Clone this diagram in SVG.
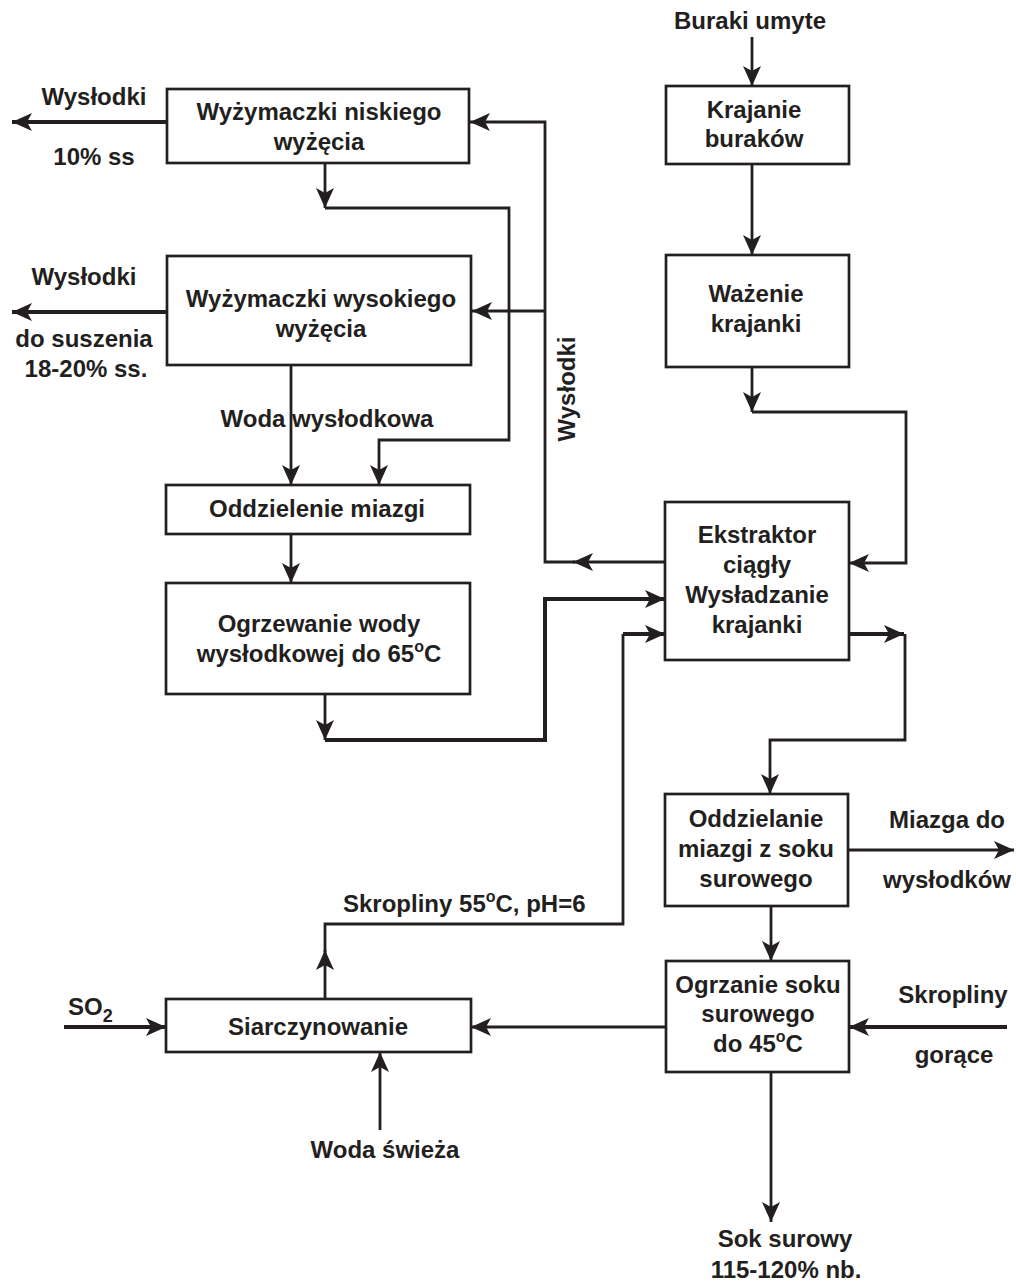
<svg xmlns="http://www.w3.org/2000/svg" width="1016" height="1282" viewBox="0 0 1016 1282">
<style>
  text { font-family: "Liberation Sans", Arial, sans-serif; font-weight: bold; font-size: 24px; fill: #231f20; }
  .c { text-anchor: middle; }
  .box { fill: #ffffff; stroke: #231f20; stroke-width: 2.7; }
  .ln { fill: none; stroke: #231f20; stroke-width: 2.8; stroke-linejoin: miter; }
  .th { stroke-width: 4; }
  .sup { font-size: 16px; }
</style>
<defs>
  <marker id="ah" viewBox="0 0 20 18" refX="20" refY="9" markerWidth="20" markerHeight="18" markerUnits="userSpaceOnUse" orient="auto">
    <path d="M0,0 L20,9 L0,18 L5,9 Z" fill="#231f20"/>
  </marker>
</defs>
<rect width="1016" height="1282" fill="#ffffff"/>

<g id="connectors">
  <line class="ln" x1="752" y1="37" x2="752" y2="86" marker-end="url(#ah)"/>
  <line class="ln" x1="752" y1="164" x2="752" y2="255" marker-end="url(#ah)"/>
  <line class="ln" x1="752" y1="367" x2="752" y2="412" marker-end="url(#ah)"/>
  <polyline class="ln" points="752,412 906,412 906,563 849,563" marker-end="url(#ah)"/>
  <line class="ln" x1="665" y1="562" x2="573" y2="562" marker-end="url(#ah)"/>
  <polyline class="ln" points="575,562 545,562 545,122 470,122" marker-end="url(#ah)"/>
  <line class="ln" x1="545" y1="311" x2="472" y2="311" marker-end="url(#ah)"/>
  <line class="ln" x1="325" y1="163" x2="325" y2="208" marker-end="url(#ah)"/>
  <polyline class="ln" points="325,208 509,208 509,440 379,440 379,485" marker-end="url(#ah)"/>
  <line class="ln" x1="291" y1="365" x2="291" y2="485" marker-end="url(#ah)"/>
  <line class="ln" x1="291" y1="534" x2="291" y2="583" marker-end="url(#ah)"/>
  <line class="ln" x1="325" y1="694" x2="325" y2="740" marker-end="url(#ah)"/>
  <polyline class="ln th" points="325,740 545,740 545,599 665,599" marker-end="url(#ah)"/>
  <line class="ln" x1="325" y1="999" x2="325" y2="950" marker-end="url(#ah)"/>
  <polyline class="ln" points="325,952 325,924 623,924 623,634"/>
  <polyline class="ln th" points="623,634 665,634" marker-end="url(#ah)"/>
  <line class="ln th" x1="849" y1="634" x2="904" y2="634" marker-end="url(#ah)"/>
  <polyline class="ln" points="905,634 905,740 770,740 770,794" marker-end="url(#ah)"/>
  <line class="ln" x1="848" y1="850" x2="1014" y2="850" marker-end="url(#ah)"/>
  <line class="ln" x1="771" y1="906" x2="771" y2="961" marker-end="url(#ah)"/>
  <line class="ln" x1="771" y1="1072" x2="771" y2="1222" marker-end="url(#ah)"/>
  <line class="ln th" x1="1007" y1="1027" x2="849" y2="1027" marker-end="url(#ah)"/>
  <line class="ln" x1="666" y1="1027" x2="471" y2="1027" marker-end="url(#ah)"/>
  <line class="ln th" x1="64" y1="1027" x2="166" y2="1027" marker-end="url(#ah)"/>
  <line class="ln" x1="380" y1="1130" x2="380" y2="1052" marker-end="url(#ah)"/>
  <line class="ln th" x1="167" y1="122" x2="12" y2="122" marker-end="url(#ah)"/>
  <line class="ln th" x1="167" y1="312" x2="12" y2="312" marker-end="url(#ah)"/>
</g>

<g id="n-wyzymaczki-niskiego">
  <rect class="box" x="167" y="89" width="302" height="74"/>
  <text class="c" x="319" y="120">Wyżymaczki niskiego</text>
  <text class="c" x="319" y="150">wyżęcia</text>
</g>
<g id="n-wyzymaczki-wysokiego">
  <rect class="box" x="167" y="256" width="304" height="109"/>
  <text class="c" x="321" y="307">Wyżymaczki wysokiego</text>
  <text class="c" x="321" y="337">wyżęcia</text>
</g>
<g id="n-oddzielenie">
  <rect class="box" x="166" y="485" width="304" height="49"/>
  <text class="c" x="317" y="517">Oddzielenie miazgi</text>
</g>
<g id="n-ogrzewanie">
  <rect class="box" x="166" y="583" width="304" height="111"/>
  <text class="c" x="319" y="632">Ogrzewanie wody</text>
  <text class="c" x="319" y="662">wysłodkowej do 65<tspan class="sup" dy="-10">o</tspan><tspan dy="10">C</tspan></text>
</g>
<g id="n-krajanie">
  <rect class="box" x="666" y="86" width="183" height="78"/>
  <text class="c" x="754" y="118">Krajanie</text>
  <text class="c" x="754" y="147">buraków</text>
</g>
<g id="n-wazenie">
  <rect class="box" x="666" y="255" width="183" height="112"/>
  <text class="c" x="756" y="302">Ważenie</text>
  <text class="c" x="756" y="332">krajanki</text>
</g>
<g id="n-ekstraktor">
  <rect class="box" x="665" y="502" width="184" height="158"/>
  <text class="c" x="757" y="543">Ekstraktor</text>
  <text class="c" x="757" y="573">ciągły</text>
  <text class="c" x="757" y="603">Wysładzanie</text>
  <text class="c" x="757" y="633">krajanki</text>
</g>
<g id="n-oddzielanie">
  <rect class="box" x="665" y="794" width="183" height="112"/>
  <text class="c" x="756" y="827">Oddzielanie</text>
  <text class="c" x="756" y="857">miazgi z soku</text>
  <text class="c" x="756" y="887">surowego</text>
</g>
<g id="n-ogrzanie">
  <rect class="box" x="666" y="961" width="183" height="111"/>
  <text class="c" x="758" y="993">Ogrzanie soku</text>
  <text class="c" x="758" y="1022">surowego</text>
  <text class="c" x="758" y="1052">do 45<tspan class="sup" dy="-10">o</tspan><tspan dy="10">C</tspan></text>
</g>
<g id="n-siarczynowanie">
  <rect class="box" x="166" y="999" width="305" height="53"/>
  <text class="c" x="318" y="1035">Siarczynowanie</text>
</g>

<g id="labels">
  <text class="c" x="750" y="29">Buraki umyte</text>
  <text class="c" x="94" y="105">Wysłodki</text>
  <text class="c" x="94" y="165">10% ss</text>
  <text class="c" x="84" y="285">Wysłodki</text>
  <text class="c" x="84" y="347">do suszenia</text>
  <text class="c" x="86" y="377">18-20% ss.</text>
  <text class="c" x="327" y="427">Woda wysłodkowa</text>
  <text class="c" transform="translate(575,389) rotate(-90)">Wysłodki</text>
  <text x="343" y="912">Skropliny 55<tspan class="sup" dy="-10">o</tspan><tspan dy="10">C, pH=6</tspan></text>
  <text class="c" x="947" y="828">Miazga do</text>
  <text class="c" x="947" y="888">wysłodków</text>
  <text class="c" x="953" y="1003">Skropliny</text>
  <text class="c" x="954" y="1063">gorące</text>
  <text x="68" y="1015">SO<tspan font-size="18px" dy="7">2</tspan></text>
  <text class="c" x="385" y="1158">Woda świeża</text>
  <text class="c" x="785" y="1247">Sok surowy</text>
  <text class="c" x="786" y="1278">115-120% nb.</text>
</g>
</svg>
